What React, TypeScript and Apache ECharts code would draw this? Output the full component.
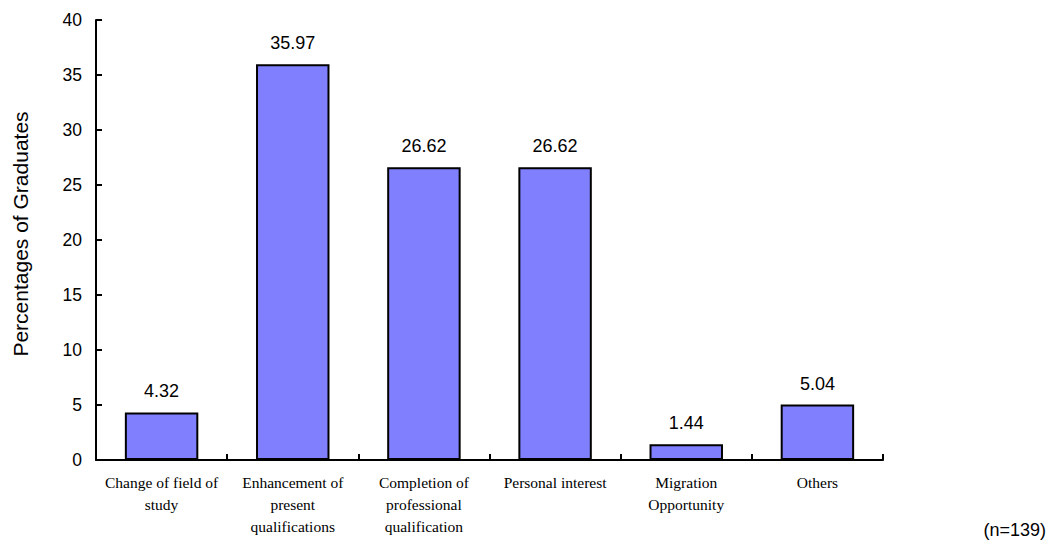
import React, { useEffect, useRef } from "react";
import * as echarts from "echarts";

// Reasons for further study, share of graduates (%)
const categories = [
  "Change of field of\nstudy",
  "Enhancement of\npresent\nqualifications",
  "Completion of\nprofessional\nqualification",
  "Personal interest",
  "Migration\nOpportunity",
  "Others",
];
const percentages = [4.32, 35.97, 26.62, 26.62, 1.44, 5.04];
const yTicks = { min: 0, max: 40, interval: 5 };
const sampleNote = "(n=139)";
const yTitle = "Percentages of Graduates";

const SANS = "Liberation Sans, Arial, sans-serif";
const SERIF = "Liberation Serif, Times New Roman, serif";

export default function App() {
  const ref = useRef<HTMLDivElement>(null);

  useEffect(() => {
    if (!ref.current) return;
    const chart = echarts.init(ref.current, null, { renderer: "svg" });
    chart.setOption({
      animation: false,
      backgroundColor: "#ffffff",
      grid: { left: 96, top: 20, right: 167, bottom: 83, containLabel: false },
      xAxis: {
        type: "category",
        data: categories,
        axisLine: { show: true, lineStyle: { color: "#000", width: 2 } },
        axisTick: { show: true, inside: true, length: 6, lineStyle: { color: "#000", width: 2 } },
        axisLabel: {
          fontFamily: SERIF,
          fontSize: 15.5,
          color: "#000",
          lineHeight: 22,
          margin: 11,
          interval: 0,
        },
        splitLine: { show: false },
      },
      yAxis: {
        type: "value",
        min: yTicks.min,
        max: yTicks.max,
        interval: yTicks.interval,
        axisLine: { show: true, lineStyle: { color: "#000", width: 2 } },
        axisTick: { show: true, inside: true, length: 6, lineStyle: { color: "#000", width: 2 } },
        axisLabel: { fontFamily: SANS, fontSize: 17.5, color: "#000", margin: 14 },
        splitLine: { show: false },
      },
      series: [
        {
          type: "bar",
          data: percentages,
          barWidth: "56%",
          itemStyle: { color: "#8080FF", borderColor: "#000", borderWidth: 2 },
          label: {
            show: true,
            position: "top",
            distance: 12,
            fontFamily: SANS,
            fontSize: 18,
            color: "#000",
            formatter: (p: any) => p.value.toFixed(2),
          },
        },
      ],
      graphic: [
        {
          // vertical axis title
          type: "text",
          x: 20,
          y: 234,
          rotation: Math.PI / 2,
          style: {
            text: yTitle,
            fontFamily: SANS,
            fontSize: 21,
            fill: "#000",
            align: "center",
            verticalAlign: "middle",
          },
        },
        {
          type: "text",
          right: 4,
          top: 521,
          style: { text: sampleNote, fontFamily: SANS, fontSize: 18, fill: "#000" },
        },
      ],
    });
    return () => chart.dispose();
  }, []);

  return <div ref={ref} style={{ width: 1050, height: 543, position: "absolute", left: 0, top: 0 }} />;
}
